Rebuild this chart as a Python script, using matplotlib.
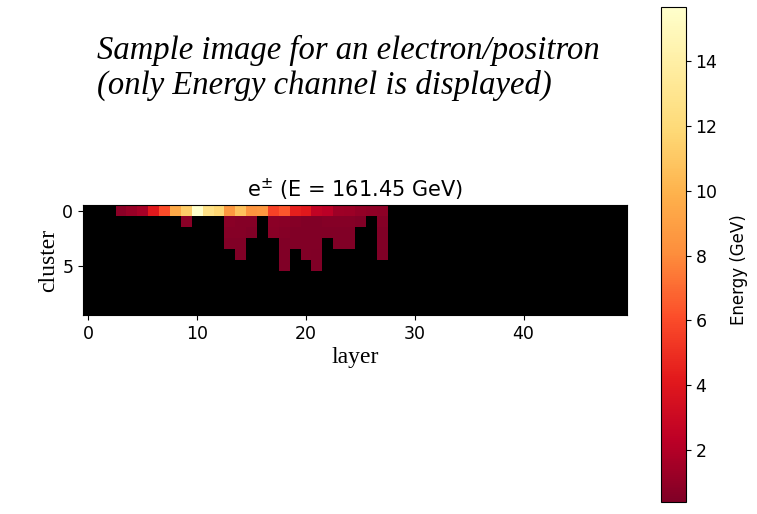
import numpy as np
import matplotlib
matplotlib.use("Agg")
import matplotlib.pyplot as plt

n_clusters = 10
n_layers = 50

# energy (GeV) per cell, row -> {layer: value}; everything else is empty
row0 = {3: 0.8, 4: 1.2, 5: 1.6, 6: 4.1, 7: 6.1, 8: 9.5, 9: 11.3, 10: 15.67,
        11: 12.6, 12: 11.8, 13: 8.6, 14: 10.7, 15: 8.5, 16: 8.6, 17: 5.7,
        18: 6.4, 19: 4.4, 20: 4.1, 21: 2.6, 22: 2.3, 23: 1.4, 24: 1.3,
        25: 1.0, 26: 0.9, 27: 0.85}
row1 = {9: 0.7, 13: 0.7, 14: 0.6, 15: 0.6, 17: 0.8, 18: 0.7, 19: 0.6,
        20: 0.5, 21: 0.5, 22: 0.6, 23: 0.6, 24: 0.6, 25: 0.5, 27: 0.6}
row2 = {13: 0.6, 14: 0.6, 15: 0.5, 17: 0.7, 18: 0.6, 19: 0.5, 20: 0.5,
        21: 0.5, 22: 0.5, 23: 0.5, 24: 0.5, 27: 0.5}
row3 = {13: 0.5, 14: 0.5, 18: 0.5, 19: 0.5, 20: 0.5, 21: 0.5, 23: 0.5,
        24: 0.5, 27: 0.5}
row4 = {14: 0.5, 18: 0.5, 20: 0.5, 21: 0.45, 27: 0.45}
row5 = {18: 0.4, 21: 0.4}
rows = [row0, row1, row2, row3, row4, row5]

img = np.zeros((n_clusters, n_layers))
for r, cells in enumerate(rows):
    for c, v in cells.items():
        img[r, c] = v
img = np.ma.masked_where(img == 0, img)

cmap = plt.get_cmap("YlOrRd_r").copy()
cmap.set_bad("black")

fig = plt.figure(figsize=(7.57, 5.14), dpi=100)
ax = fig.add_axes([0.1096, 0.387, 0.7185, 0.214])
im = ax.imshow(img, cmap=cmap, vmin=0.4, vmax=15.67, aspect="auto",
               interpolation="nearest")
ax.set_title("e$^{\\pm}$ (E = 161.45 GeV)", fontsize=15)
ax.set_xlabel("layer", family="Liberation Serif", fontsize=17, labelpad=3)
ax.set_ylabel("cluster", family="Liberation Serif", fontsize=17, labelpad=2)
ax.set_xticks([0, 10, 20, 30, 40])
ax.set_yticks([0, 5])
ax.tick_params(labelsize=12.5)

cax = fig.add_axes([0.873, 0.0233, 0.033, 0.963])
cb = fig.colorbar(im, cax=cax)
cb.set_ticks([2, 4, 6, 8, 10, 12, 14])
cb.ax.tick_params(labelsize=12.5)
cb.set_label("Energy (GeV)", fontsize=12)
cb.ax.yaxis.set_label_coords(2.75, 0.47)

fig.text(97 / 757, 0.868, "Sample image for an electron/positron\n(only Energy channel is displayed)",
         family="Liberation Serif", style="italic", fontsize=23.5,
         ha="left", va="center", linespacing=1.15)

fig.savefig("out.png", dpi=100)
